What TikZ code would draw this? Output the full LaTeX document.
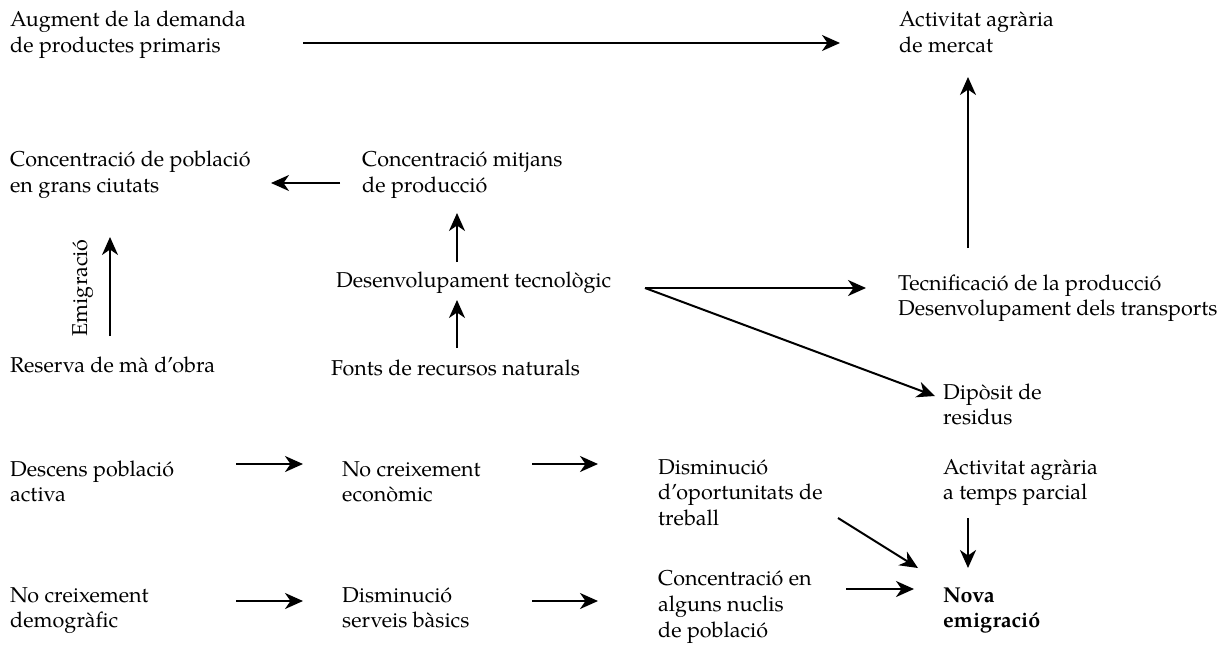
\documentclass[tikz,border=0pt]{standalone}
\usepackage{fontspec}
\setmainfont{TeX Gyre Pagella}
\usetikzlibrary{arrows.meta}
\newcommand\TwoL[2]{\vtop{\hbox{#1}\hbox{#2}}}
\newcommand\ThreeL[3]{\vtop{\hbox{#1}\hbox{#2}\hbox{#3}}}
\begin{document}
\begin{tikzpicture}[x=1pt,y=-1pt,
  lbl/.style={anchor=base west, inner sep=0pt, font=\fontsize{21.5}{25.8}\selectfont},
  arr/.style={-{Stealth[length=18pt,width=16pt,inset=5.5pt]}, line width=2pt}]
\useasboundingbox (0,0) rectangle (1222,645);
% nodes
\node[lbl] (augm) at (10,26.7) {\TwoL{Augment de la demanda}{de productes primaris}};
\node[lbl] (actm) at (899,26.7) {\TwoL{Activitat agrària}{de mercat}};
\node[lbl] (cpob) at (10,166.7) {\TwoL{Concentració de població}{en grans ciutats}};
\node[lbl] (cmit) at (362,166.7) {\TwoL{Concentració mitjans}{de producció}};
\node[lbl] (dtec) at (336,287) {Desenvolupament tecnològic};
\node[lbl] (font) at (331,375) {Fonts de recursos naturals};
\node[lbl] (rese) at (10,372) {Reserva de mà d’obra};
\node[lbl, anchor=base, rotate=90] (emig) at (87,288) {Emigració};
\node[lbl] (tecn) at (898,290) {\TwoL{Tecnificació de la producció}{Desenvolupament dels transports}};
\node[lbl] (dipo) at (943,399) {\TwoL{Dipòsit de}{residus}};
\node[lbl] (desc) at (10,476) {\TwoL{Descens població}{activa}};
\node[lbl] (ncec) at (342,476) {\TwoL{No creixement}{econòmic}};
\node[lbl] (dopo) at (658,474) {\ThreeL{Disminució}{d’oportunitats de}{treball}};
\node[lbl] (atp) at (943,474) {\TwoL{Activitat agrària}{a temps parcial}};
\node[lbl] (ncde) at (10,602) {\TwoL{No creixement}{demogràfic}};
\node[lbl] (dser) at (342,602) {\TwoL{Disminució}{serveis bàsics}};
\node[lbl] (cnuc) at (658,585.5) {\ThreeL{Concentració en}{alguns nuclis}{de població}};
\node[lbl, font=\fontsize{21.5}{25.8}\selectfont\bfseries] (nova) at (943,602) {\TwoL{Nova}{emigració}};
% connector end points
\coordinate (augmE) at (303,43);   \coordinate (actmW) at (840,43);
\coordinate (tecnN) at (968,248);  \coordinate (actmS) at (968,77);
\coordinate (cmitW) at (340,183);  \coordinate (cpobE) at (271,183);
\coordinate (reseN) at (110,336);  \coordinate (cpobS) at (110,237);
\coordinate (dtecN) at (457,262);  \coordinate (cmitS) at (457,213);
\coordinate (fontN) at (457,348);  \coordinate (dtecS) at (457,300);
\coordinate (dtecE) at (645,288);  \coordinate (tecnW) at (866,288);
\coordinate (dipoW) at (935,396);
\coordinate (descE) at (236,464);  \coordinate (ncecW) at (303,464);
\coordinate (ncecE) at (532,464);  \coordinate (dopoW) at (598,464);
\coordinate (ncdeE) at (236,601);  \coordinate (dserW) at (303,601);
\coordinate (dserE) at (532,601);  \coordinate (cnucW) at (598,601);
\coordinate (dopoE) at (838,518);  \coordinate (novaNW) at (918,568);
\coordinate (atpS) at (968,518);   \coordinate (novaN) at (968,568);
\coordinate (cnucE) at (846,589);  \coordinate (novaW) at (914,589);
% connectors
\draw[arr] (augmE) -- (actmW);
\draw[arr] (tecnN) -- (actmS);
\draw[arr] (cmitW) -- (cpobE);
\draw[arr] (reseN) -- (cpobS);
\draw[arr] (dtecN) -- (cmitS);
\draw[arr] (fontN) -- (dtecS);
\draw[arr] (dtecE) -- (tecnW);
\draw[arr] (dtecE) -- (dipoW);
\draw[arr] (descE) -- (ncecW);
\draw[arr] (ncecE) -- (dopoW);
\draw[arr] (ncdeE) -- (dserW);
\draw[arr] (dserE) -- (cnucW);
\draw[arr] (dopoE) -- (novaNW);
\draw[arr] (atpS) -- (novaN);
\draw[arr] (cnucE) -- (novaW);
\end{tikzpicture}
\end{document}
